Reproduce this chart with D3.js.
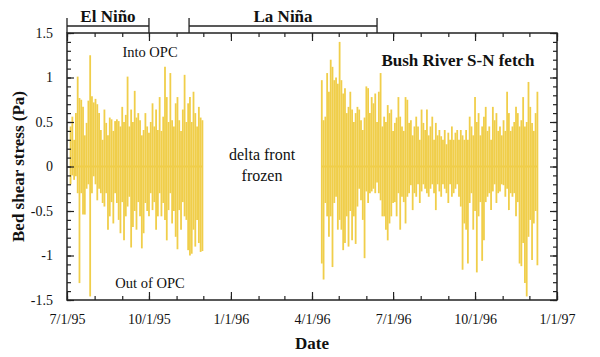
<!DOCTYPE html>
<html><head><meta charset="utf-8">
<script src="https://cdn.jsdelivr.net/npm/d3@7"></script>
<style>
body{margin:0;background:#fff}
svg{display:block}
text{font-family:"Liberation Serif","Times New Roman",serif;fill:#111}
</style>
</head><body><svg id="c" width="600" height="357"></svg>
<script>
// ---------- data ----------
const xTickDates = ["1995-07-01","1995-10-01","1996-01-01","1996-04-01","1996-07-01","1996-10-01","1997-01-01"];
const xTickLabels = ["7/1/95","10/1/95","1/1/96","4/1/96","7/1/96","10/1/96","1/1/97"];
const yTicks = [-1.5,-1,-0.5,0,0.5,1,1.5];
const yTickLabels = ["-1.5","-1","-0.5","0","0.5","1","1.5"];
const stepDays = 2;

const elNinoStart = "1995-07-05";
const elNinoHigh = [0.45,0.56,0.30,0.60,1.01,0.77,0.75,0.67,0.35,0.49,0.74,1.25,0.79,0.72,0.76,0.70,0.60,0.41,0.30,0.64,
  0.49,0.35,0.55,0.53,0.40,0.51,0.53,0.51,0.45,0.67,0.50,0.58,1.01,0.45,0.64,0.50,0.85,0.55,0.60,0.52,
  0.35,0.41,0.60,0.45,0.38,0.50,0.71,0.45,0.64,0.41,0.78,0.40,0.56,1.12,0.78,0.50,1.05,0.52,0.45,0.71,
  0.78,0.52,0.40,0.64,1.03,0.50,0.71,0.78,0.50,0.84,0.60,0.45,0.67,0.55,0.52];
const elNinoLow = [-0.20,-0.10,-0.15,-0.11,-0.30,-1.31,-0.30,-0.54,-0.54,-0.25,-0.20,-1.46,-0.30,-0.11,-0.20,-0.38,-0.25,-0.30,-0.41,-0.45,
  -0.30,-0.71,-0.56,-0.40,-0.64,-0.30,-0.41,-0.60,-0.75,-0.40,-0.83,-0.56,-0.45,-0.34,-0.91,-0.68,-0.50,-0.71,-0.40,-0.56,
  -0.92,-0.75,-0.41,-0.50,-0.56,-0.30,-0.49,-0.40,-0.71,-0.56,-0.30,-0.56,-0.41,-0.60,-0.83,-0.49,-0.30,-0.64,-0.50,-0.79,
  -0.93,-0.49,-0.71,-0.40,-0.56,-0.60,-0.94,-1.00,-0.98,-0.71,-0.90,-0.60,-0.86,-0.96,-0.95];

const laNinaStart = "1996-04-12";
const laNinaHigh = [0.97,0.52,0.56,1.05,0.84,1.20,1.12,0.97,1.00,0.93,1.40,0.97,0.82,0.88,0.60,0.67,0.84,0.64,0.50,0.60,
  0.67,0.64,0.52,0.41,0.55,0.90,0.88,0.60,0.78,0.71,0.82,0.50,0.84,1.05,0.45,0.56,0.50,0.69,0.60,0.64,
  0.40,0.49,0.55,0.78,0.56,0.45,0.40,0.78,0.75,0.49,0.52,0.35,0.45,0.56,0.45,0.30,0.64,0.49,0.41,0.64,
  0.35,0.45,0.56,0.30,0.49,0.35,0.41,0.34,0.30,0.41,0.25,0.38,0.30,0.45,0.30,0.38,0.41,0.30,0.41,0.35,
  0.30,0.41,0.30,0.56,0.45,0.35,0.78,0.50,0.60,0.35,0.45,0.56,0.67,0.40,0.45,0.30,0.67,0.52,0.60,0.40,
  0.45,0.35,0.52,0.40,0.84,0.60,0.40,0.45,0.50,0.67,0.60,0.45,0.52,0.78,0.45,0.50,0.95,0.67,0.49,0.40,
  0.60,0.84];
const laNinaLow = [-1.09,-1.27,-0.41,-0.56,-0.79,-0.56,-1.13,-0.41,-0.34,-0.71,-0.60,-0.71,-0.94,-0.86,-0.56,-0.90,-0.50,-0.83,-0.56,-0.87,
  -0.45,-0.25,-0.38,-0.60,-1.03,-0.28,-0.41,-0.30,-0.28,-0.25,-0.30,-0.18,-0.30,-0.38,-0.56,-0.56,-0.71,-0.83,-0.64,-0.56,
  -0.41,-0.40,-0.56,-0.30,-0.71,-0.34,-0.40,-0.64,-0.34,-0.30,-0.21,-0.49,-0.30,-0.34,-0.20,-0.41,-0.28,-0.20,-0.25,-0.30,
  -0.34,-0.25,-0.20,-0.30,-0.49,-0.20,-0.28,-0.34,-0.20,-0.25,-0.30,-0.41,-0.20,-0.34,-0.30,-0.25,-0.20,-0.34,-0.45,-1.16,
  -0.64,-0.71,-1.09,-0.41,-0.30,-0.71,-0.50,-1.19,-0.56,-0.40,-1.06,-0.83,-0.40,-0.34,-0.30,-0.49,-0.28,-0.20,-0.41,-0.30,
  -0.28,-0.20,-0.21,-0.34,-0.25,-0.49,-0.30,-0.34,-0.30,-0.56,-0.40,-1.09,-1.12,-0.86,-1.31,-1.46,-0.79,-0.60,-1.05,-0.64,
  -0.50,-1.11];

const periodNames = ["El Niño","La Niña"];
const periodStarts = ["1995-07-01","1995-11-15"];
const periodEnds = ["1995-10-01","1996-06-13"];

// ---------- chart ----------
const parse = d3.utcParse("%Y-%m-%d");
const L = 67, R = 557, T = 33, B = 300;
const svg = d3.select("#c");
const x = d3.scaleUtc().domain([parse("1995-07-01"), parse("1997-01-01")]).range([L, R]);
const y = d3.scaleLinear().domain([-1.5, 1.5]).range([B, T]);
const yellow = "#f0ce4a";
const ink = "#222";

function build(start, hi, lo) {
  const s = parse(start);
  return hi.map((h, i) => ({date: d3.utcDay.offset(s, i * stepDays), hi: h, lo: lo[i]}));
}
const segments = [build(elNinoStart, elNinoHigh, elNinoLow), build(laNinaStart, laNinaHigh, laNinaLow)];

const plot = svg.append("g");
segments.forEach(seg => {
  plot.append("line")
    .attr("x1", x(seg[0].date)).attr("x2", x(seg[seg.length-1].date))
    .attr("y1", y(0)).attr("y2", y(0))
    .attr("stroke", yellow).attr("stroke-width", 2);
  plot.selectAll(null).data(seg).enter().append("line")
    .attr("x1", d => x(d.date)).attr("x2", d => x(d.date))
    .attr("y1", d => y(d.lo)).attr("y2", d => y(d.hi))
    .attr("stroke", yellow).attr("stroke-width", 1.8);
});

// axes
const fontSize = 14;
const yMinor = d3.range(-15, 16).map(v => v / 10);
const majorX = xTickDates.map(parse);
const minorX = d3.utcMonth.range(parse("1995-07-01"), parse("1997-01-02"));

function styleAxis(g) {
  g.select(".domain").remove();
  g.selectAll("line").attr("stroke", ink).attr("stroke-width", 1.2);
  g.selectAll("text").attr("font-size", fontSize).attr("fill", "#111")
    .attr("font-family", '"Liberation Serif","Times New Roman",serif');
}
svg.append("g").attr("transform", `translate(${L},0)`)
  .call(d3.axisLeft(y).tickValues(yMinor).tickFormat("").tickSizeInner(-4).tickSizeOuter(0)).call(styleAxis);
svg.append("g").attr("transform", `translate(${L},0)`)
  .call(d3.axisLeft(y).tickValues(yTicks).tickFormat((d, i) => yTickLabels[i]).tickSizeInner(-7).tickSizeOuter(0).tickPadding(14)).call(styleAxis);
svg.append("g").attr("transform", `translate(${R},0)`)
  .call(d3.axisRight(y).tickValues(yMinor).tickFormat("").tickSizeInner(-4).tickSizeOuter(0)).call(styleAxis);
svg.append("g").attr("transform", `translate(${R},0)`)
  .call(d3.axisRight(y).tickValues(yTicks).tickFormat("").tickSizeInner(-7).tickSizeOuter(0)).call(styleAxis);
svg.append("g").attr("transform", `translate(0,${B})`)
  .call(d3.axisBottom(x).tickValues(minorX).tickFormat("").tickSizeInner(-4).tickSizeOuter(0)).call(styleAxis);
svg.append("g").attr("transform", `translate(0,${B})`)
  .call(d3.axisBottom(x).tickValues(majorX).tickFormat((d, i) => xTickLabels[i]).tickSizeInner(-8).tickSizeOuter(0).tickPadding(14)).call(styleAxis);
svg.append("g").attr("transform", `translate(0,${T})`)
  .call(d3.axisTop(x).tickValues(minorX).tickFormat("").tickSizeInner(-4).tickSizeOuter(0)).call(styleAxis);
svg.append("g").attr("transform", `translate(0,${T})`)
  .call(d3.axisTop(x).tickValues(majorX).tickFormat("").tickSizeInner(-8).tickSizeOuter(0)).call(styleAxis);

svg.append("rect").attr("x", L).attr("y", T).attr("width", R - L).attr("height", B - T)
  .attr("fill", "none").attr("stroke", ink).attr("stroke-width", 1.5);

// period brackets
periodNames.forEach((name, i) => {
  const x0 = x(parse(periodStarts[i])), x1 = x(parse(periodEnds[i]));
  const g = svg.append("g").attr("stroke", ink).attr("stroke-width", 1.3);
  g.append("line").attr("x1", x0).attr("x2", x1).attr("y1", 26).attr("y2", 26);
  g.append("line").attr("x1", x0).attr("x2", x0).attr("y1", 18).attr("y2", 33);
  g.append("line").attr("x1", x1).attr("x2", x1).attr("y1", 18).attr("y2", 33);
  svg.append("text").attr("x", (x0 + x1) / 2).attr("y", 22).attr("text-anchor", "middle")
    .attr("font-size", 17).attr("font-weight", "bold").text(name);
});

// annotations
svg.append("text").attr("x", 150).attr("y", 57).attr("text-anchor", "middle").attr("font-size", 14.5).text("Into OPC");
svg.append("text").attr("x", 150).attr("y", 288).attr("text-anchor", "middle").attr("font-size", 14.5).text("Out of OPC");
svg.append("text").attr("x", 262).attr("y", 160).attr("text-anchor", "middle").attr("font-size", 16).text("delta front");
svg.append("text").attr("x", 262).attr("y", 181).attr("text-anchor", "middle").attr("font-size", 16).text("frozen");
svg.append("text").attr("x", 458).attr("y", 66).attr("text-anchor", "middle").attr("font-size", 17).attr("font-weight", "bold").text("Bush River S-N fetch");

// axis titles
svg.append("text").attr("x", 312).attr("y", 349).attr("text-anchor", "middle").attr("font-size", 17).attr("font-weight", "bold").text("Date");
svg.append("text").attr("transform", `translate(24,${(T + B) / 2}) rotate(-90)`).attr("text-anchor", "middle")
  .attr("font-size", 17).attr("font-weight", "bold").text("Bed shear stress (Pa)");
</script>
</body></html>
